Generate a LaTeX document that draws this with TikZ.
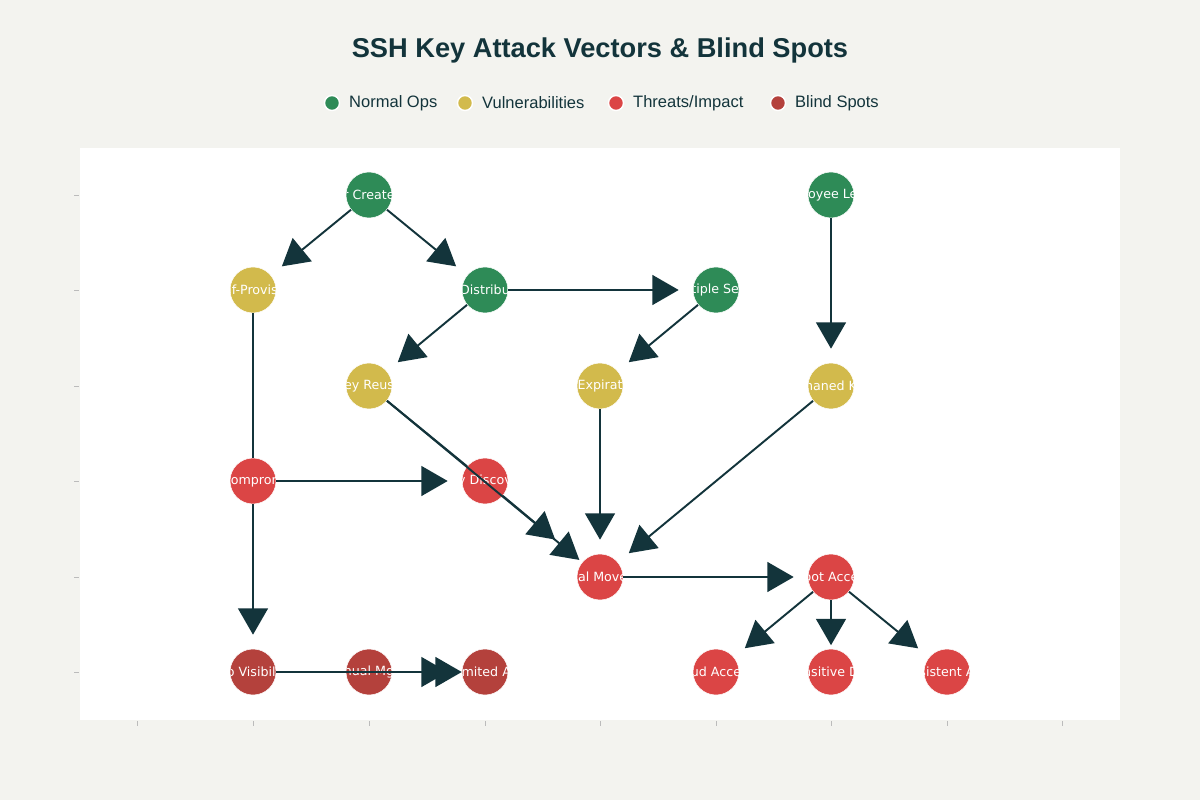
\documentclass[tikz,border=0pt]{standalone}
\usepackage{fontspec}
\setmainfont{Liberation Sans}
\newfontfamily\nodefont{DejaVu Sans}
\usetikzlibrary{arrows.meta}
\definecolor{bgcol}{HTML}{F3F3EF}
\definecolor{inkcol}{HTML}{13343B}
\definecolor{green3}{HTML}{2E8B57}
\definecolor{yellow3}{HTML}{D2BA4C}
\definecolor{red3}{HTML}{DB4545}
\definecolor{darkred3}{HTML}{B4413C}
\definecolor{tick3}{HTML}{BBBBBB}

\tikzset{
  kstate/.style={circle, minimum size=46*0.02cm, inner sep=0pt, draw=white, line width=0.3pt,
    path picture={\node[white, font=\nodefont\fontsize{7.2}{8}\selectfont]
      at (path picture bounding box.center) {#1};}},
  normal/.style={kstate={#1}, fill=green3},
  vuln/.style={kstate={#1}, fill=yellow3},
  threat/.style={kstate={#1}, fill=red3},
  blind/.style={kstate={#1}, fill=darkred3},
  flow/.style={-{Triangle[length=15pt,width=17pt]}, inkcol, line width=1.1pt, shorten >=8pt},
  plain/.style={inkcol, line width=1.1pt},
  legdot/.style={circle, minimum size=15*0.02cm, inner sep=0pt, draw=white, line width=0.8pt},
  legtext/.style={anchor=west, text=inkcol, font=\fontsize{9.4}{11}\selectfont}
}

\begin{document}
\begin{tikzpicture}[x=0.02cm, y=-0.02cm]

  \fill[bgcol] (0,0) rectangle (1200,800);
  \fill[white] (80,148) rectangle (1120,720);
  \useasboundingbox (0,0) rectangle (1200,800);

  \node[text=inkcol, font=\bfseries\fontsize{15.5}{18}\selectfont] (title) at (600,50) {SSH Key Attack Vectors \& Blind Spots};

  % legend
  \node[legdot, fill=green3] (l1) at (332,103) {};
  \node[legtext] at (343,103) {Normal Ops};
  \node[legdot, fill=yellow3] (l2) at (465,103) {};
  \node[legtext] at (476,103) {Vulnerabilities};
  \node[legdot, fill=red3] (l3) at (616,103) {};
  \node[legtext] at (627,103) {Threats/Impact};
  \node[legdot, fill=darkred3] (l4) at (778,103) {};
  \node[legtext] at (789,103) {Blind Spots};

  % ticks
  \foreach \y in {195,290,386,481,577,672} \draw[tick3, line width=0.4pt] (74,\y) -- (79,\y);
  \foreach \x in {137,253,369,485,600,716,831,947,1062} \draw[tick3, line width=0.4pt] (\x,721) -- (\x,726);

  % nodes
  \node[normal={r Create}] (cre) at (369,195) {};
  \node[normal={loyee Le}] (emp) at (831,195) {};
  \node[vuln={lf-Provis}] (sel) at (253,290) {};
  \node[normal={Distribu}] (dis) at (485,290) {};
  \node[normal={ltiple Ser}] (mul) at (716,290) {};
  \node[vuln={ey Reus}] (reu) at (369,386) {};
  \node[vuln={Expirat}] (exp) at (600,386) {};
  \node[vuln={haned K}] (orp) at (831,386) {};
  \node[threat={Comprom}] (com) at (253,481) {};
  \node[threat={y Discov}] (kdi) at (485,481) {};
  \node[threat={ral Move}] (lat) at (600,577) {};
  \node[threat={oot Acce}] (roo) at (831,577) {};
  \node[blind={o Visibili}] (nov) at (253,672) {};
  \node[blind={nual Mg}] (man) at (369,672) {};
  \node[blind={Limited Au}] (lim) at (485,672) {};
  \node[threat={ud Acce}] (clo) at (716,672) {};
  \node[threat={nsitive D}] (sen) at (831,672) {};
  \node[threat={sistent A}] (per) at (947,672) {};

  % connectors
  \draw[flow] (cre) -- (sel);
  \draw[flow] (cre) -- (dis);
  \draw[flow] (dis) -- (mul);
  \draw[flow] (dis) -- (reu);
  \draw[flow] (mul) -- (exp);
  \draw[flow] (emp) -- (orp);
  \draw[plain] (sel) -- (com);
  \draw[plain] (reu) -- (kdi);
  \draw[flow, shorten >=2pt] (reu) -- (lat);
  \draw[flow, shorten >=20pt] (kdi) -- (lat);
  \draw[flow] (com) -- (kdi);
  \draw[flow] (com) -- (nov);
  \draw[flow] (exp) -- (lat);
  \draw[flow] (orp) -- (lat);
  \draw[flow] (lat) -- (roo);
  \draw[flow] (roo) -- (clo);
  \draw[flow, shorten >=2pt] (roo) -- (sen);
  \draw[flow] (roo) -- (per);
  \draw[plain] (nov) -- (man);
  \draw[flow] (man) -- (lim);
  \draw[flow, shorten >=0pt] (nov) -- (lim);

\end{tikzpicture}
\end{document}
